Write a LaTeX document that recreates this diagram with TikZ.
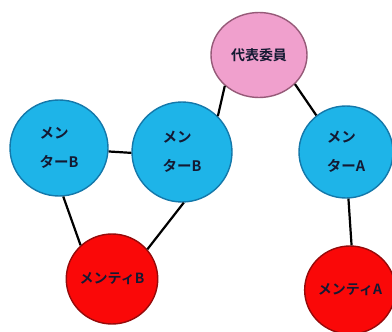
\documentclass[tikz,border=0pt]{standalone}
\usepackage{fontspec}
\newfontfamily\jp{Noto Sans CJK JP}[BoldFont={* Bold}]
\usetikzlibrary{shapes.geometric}
\definecolor{mblue}{RGB}{30,180,232}
\definecolor{mblueD}{RGB}{20,120,170}
\definecolor{mpink}{RGB}{240,160,205}
\definecolor{mpinkD}{RGB}{150,90,120}
\definecolor{mred}{RGB}{250,8,8}
\definecolor{mredD}{RGB}{150,10,10}
\definecolor{ink}{RGB}{20,25,50}
\begin{document}
\begin{tikzpicture}[x=1pt,y=-1pt,
  bub/.style={ellipse,inner sep=0pt,line width=1.4pt,font=\jp\bfseries\fontsize{14.5}{29}\selectfont,text=ink},
  mentor/.style={bub,fill=mblue,draw=mblueD,minimum width=98pt,minimum height=96pt,align=left},
  mentee/.style={bub,fill=mred,draw=mredD,minimum width=90pt,minimum height=90pt,font=\jp\bfseries\fontsize{14}{17}\selectfont},
  rep/.style={bub,fill=mpink,draw=mpinkD,minimum width=96pt,minimum height=85pt,font=\jp\bfseries\fontsize{14}{17}\selectfont},
  link/.style={line width=2.2pt,black}]
\useasboundingbox[fill=white] (0,0) rectangle (392,332);
\node[rep] (r) at (259,55) {代表委員};
\node[mentor] (b1) at (59,148) {メン\\ターB};
\node[mentor,minimum width=100pt,minimum height=100pt] (b2) at (182,152) {メン\\ターB};
\node[mentor,minimum width=94pt,minimum height=92pt] (a) at (346,152) {メン\\ターA};
\node[mentee] (eb) at (112,279) {メンティB};
\node[mentee,minimum height=88pt] (ea) at (350,290) {メンティA};
\draw[link] (b1.-4) -- (b2.181);
\draw[link] (r.222) -- (b2.45);
\draw[link] (r.-39) -- (a.129);
\draw[link] (b1.-85) -- (eb.133);
\draw[link] (b2.-88) -- (eb.40);
\draw[link] (a.-87) -- (ea.88);
\end{tikzpicture}
\end{document}
